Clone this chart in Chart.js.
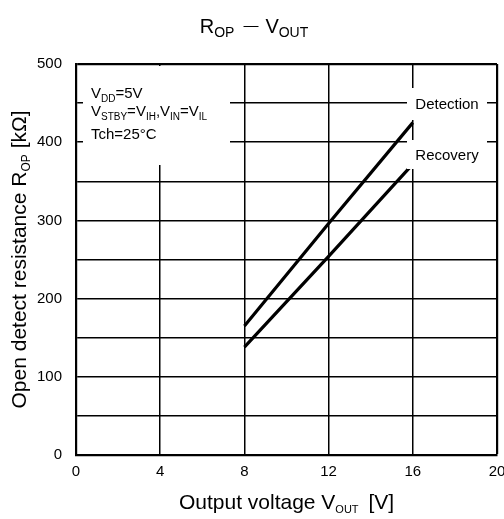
<!DOCTYPE html>
<html>
<head>
<meta charset="utf-8">
<script src="https://cdn.jsdelivr.net/npm/chart.js@4"></script>
<style>
  html, body { margin: 0; padding: 0; background: #fff; }
  canvas { display: block; }
</style>
</head>
<body>
<canvas id="chart" width="504" height="519"></canvas>
<script>
// Open detect resistance vs. output voltage
const outputVoltage = [8, 12, 16];              // V
const detectionResistance = [165, 296, 425];    // kΩ
const recoveryResistance = [138, 254, 372];     // kΩ
const seriesNames = ['Detection', 'Recovery'];
const xTickValues = [0, 4, 8, 12, 16, 20];
const yTickValues = [0, 100, 200, 300, 400, 500];
const yGridStep = 50;

const FONT = "'Liberation Sans', Arial, Helvetica, sans-serif";

// Draws a run of text pieces: [text, fontSize, dy, extraGapAfter]
function drawRich(ctx, parts, x, y, align) {
  let total = 0;
  const widths = parts.map(p => {
    ctx.font = p[1] + 'px ' + FONT;
    const w = ctx.measureText(p[0]).width + (p[3] || 0);
    total += w;
    return w;
  });
  let cx = align === 'center' ? x - total / 2 : x;
  ctx.textAlign = 'left';
  ctx.textBaseline = 'alphabetic';
  parts.forEach((p, i) => {
    ctx.font = p[1] + 'px ' + FONT;
    ctx.fillText(p[0], cx, y + (p[2] || 0));
    cx += widths[i];
  });
}

const textPlugin = {
  id: 'richText',
  afterDatasetsDraw(chart) {
    const ctx = chart.ctx;
    const area = chart.chartArea;
    ctx.save();

    // condition box (top-left)
    ctx.fillStyle = '#fff';
    ctx.fillRect(area.left + 7, area.top + 2, 147, 99);
    ctx.fillStyle = '#000';
    const tx = area.left + 15;
    drawRich(ctx, [['V', 15], ['DD', 10, 3.5], ['=5V', 15]], tx, area.top + 34);
    drawRich(ctx, [['V', 15], ['STBY', 10, 3.5], ['=V', 15], ['IH', 10, 3.5],
                   [',V', 15], ['IN', 10, 3.5], ['=V', 15], ['IL', 10, 3.5]], tx, area.top + 52);
    drawRich(ctx, [['Tch=25°C', 15]], tx, area.top + 75);

    // series labels with white backing
    const cxLabel = area.right - 50;
    const boxes = [[area.top + 24, area.top + 56], [area.top + 76, area.top + 105]];
    boxes.forEach((b, i) => {
      ctx.fillStyle = '#fff';
      ctx.fillRect(cxLabel - 40, b[0], 80, b[1] - b[0]);
      ctx.fillStyle = '#000';
      ctx.font = '15px ' + FONT;
      ctx.textAlign = 'center';
      ctx.textBaseline = 'middle';
      ctx.fillText(seriesNames[i], cxLabel, (b[0] + b[1]) / 2 + 1);
    });

    // chart title
    ctx.fillStyle = '#000';
    drawRich(ctx, [['R', 20], ['OP', 14, 3.5, 9], ['—', 15, -3, 7], ['V', 20], ['OUT', 14, 3.5]],
             chart.width / 2 + 2, 33, 'center');

    // x axis title
    drawRich(ctx, [['Output voltage V', 21], ['OUT', 11, 4, 4], [' [V]', 21]],
             (area.left + area.right) / 2, 509, 'center');

    // y axis title
    ctx.translate(26, (area.top + area.bottom) / 2);
    ctx.rotate(-Math.PI / 2);
    drawRich(ctx, [['Open detect resistance R', 21], ['OP', 12, 4], [' [kΩ]', 21]], 0, 0, 'center');

    ctx.restore();
  }
};

const toPoints = (xs, ys) => xs.map((v, i) => ({ x: v, y: ys[i] }));

const noEdgePadding = s => { s.paddingLeft = 0; s.paddingRight = 0; s.paddingTop = 0; s.paddingBottom = 0; };

new Chart(document.getElementById('chart'), {
  type: 'line',
  data: {
    datasets: [
      { label: seriesNames[0], data: toPoints(outputVoltage, detectionResistance),
        borderColor: '#000', borderWidth: 3.2, pointRadius: 0, fill: false, tension: 0 },
      { label: seriesNames[1], data: toPoints(outputVoltage, recoveryResistance),
        borderColor: '#000', borderWidth: 3.2, pointRadius: 0, fill: false, tension: 0 }
    ]
  },
  options: {
    responsive: false,
    animation: false,
    devicePixelRatio: 1,
    layout: { padding: { top: 64, right: 7, bottom: 0, left: 0 }, autoPadding: false },
    plugins: {
      legend: { display: false },
      title: { display: false },
      tooltip: { enabled: false }
    },
    scales: {
      x: {
        type: 'linear',
        min: xTickValues[0],
        max: xTickValues[xTickValues.length - 1],
        afterBuildTicks: s => { s.ticks = xTickValues.map(v => ({ value: v })); },
        afterFit: s => { s.height = 64; noEdgePadding(s); },
        grid: {
          color: '#000',
          lineWidth: c => (c.tick && c.tick.value === xTickValues[xTickValues.length - 1]) ? 2.2 : 1.5,
          drawTicks: false
        },
        border: { color: '#000', width: 2.2 },
        ticks: { color: '#000', font: { size: 15, family: FONT }, padding: 8, maxRotation: 0, autoSkip: false }
      },
      y: {
        type: 'linear',
        min: yTickValues[0],
        max: yTickValues[yTickValues.length - 1],
        afterFit: s => { s.width = 76; noEdgePadding(s); },
        grid: {
          color: '#000',
          lineWidth: c => (c.tick && c.tick.value === yTickValues[yTickValues.length - 1]) ? 2.2 : 1.5,
          drawTicks: false
        },
        border: { color: '#000', width: 2.2 },
        ticks: {
          stepSize: yGridStep,
          autoSkip: false,
          color: '#000',
          font: { size: 15, family: FONT },
          padding: 14,
          callback: v => yTickValues.includes(v) ? String(v) : ''
        }
      }
    }
  },
  plugins: [textPlugin]
});
</script>
</body>
</html>
